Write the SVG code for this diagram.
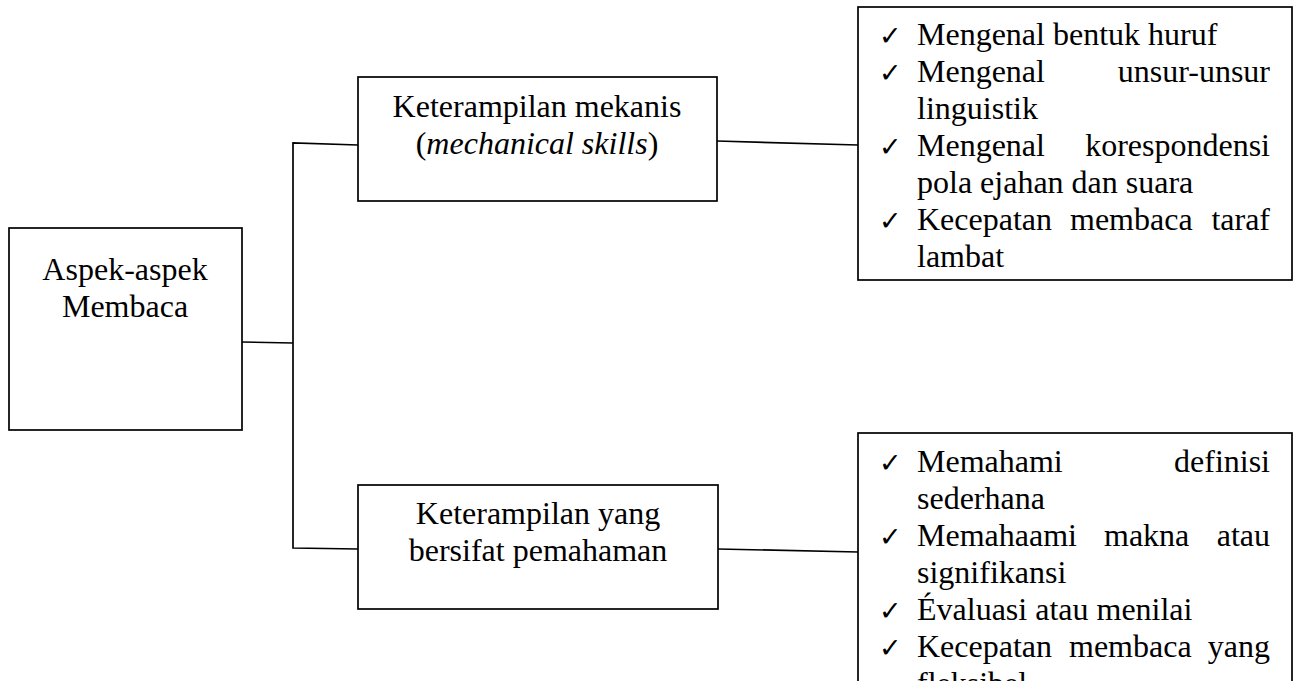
<svg xmlns="http://www.w3.org/2000/svg" width="1294" height="681" viewBox="0 0 1294 681">
<style>
.box{fill:#fff;stroke:#000;stroke-width:1.7}
.ln{fill:none;stroke:#000;stroke-width:1.7}
.t{font-family:"Liberation Serif","Times New Roman",serif;font-size:32px;fill:#000}
.c{text-anchor:middle}
.e{text-anchor:end}
.ck{font-family:"DejaVu Sans",sans-serif;font-size:27px;fill:#000}
</style>
<rect width="1294" height="681" fill="#fff"/>
<g id="connectors">
<path class="ln" d="M242 342 L293 343"/>
<path class="ln" d="M358 145 L293 143 L293 548 L358 549"/>
<path class="ln" d="M717 141 L858 145"/>
<path class="ln" d="M718 549 L858 552"/>
</g>
<g id="aspek">
<rect class="box" x="9" y="228" width="233" height="202"/>
<text class="t c" x="125" y="280">Aspek-aspek</text>
<text class="t c" x="125" y="317">Membaca</text>
</g>
<g id="mekanis">
<rect class="box" x="358" y="77" width="359" height="124"/>
<text class="t c" x="537" y="117">Keterampilan mekanis</text>
<text class="t c" x="537" y="154">(<tspan font-style="italic">mechanical skills</tspan>)</text>
</g>
<g id="pemahaman">
<rect class="box" x="358" y="485" width="360" height="124"/>
<text class="t c" x="538" y="524">Keterampilan yang</text>
<text class="t c" x="538" y="561">bersifat pemahaman</text>
</g>
<g id="list-mekanis">
<rect class="box" x="858" y="7" width="434" height="273"/>
<text class="ck" x="879" y="45">✓</text>
<text class="t" x="917" y="45">Mengenal bentuk huruf</text>
<text class="ck" x="879" y="82">✓</text>
<text class="t" x="917" y="82">Mengenal</text>
<text class="t e" x="1270" y="82">unsur-unsur</text>
<text class="t" x="917" y="119">linguistik</text>
<text class="ck" x="879" y="156">✓</text>
<text class="t" x="917" y="156">Mengenal</text>
<text class="t e" x="1270" y="156">korespondensi</text>
<text class="t" x="917" y="193">pola ejahan dan suara</text>
<text class="ck" x="879" y="230">✓</text>
<text class="t" x="917" y="230">Kecepatan</text>
<text class="t" x="1070" y="230">membaca</text>
<text class="t e" x="1270" y="230">taraf</text>
<text class="t" x="917" y="267">lambat</text>
</g>
<g id="list-pemahaman">
<rect class="box" x="858" y="433" width="434" height="270"/>
<text class="ck" x="879" y="472">✓</text>
<text class="t" x="917" y="472">Memahami</text>
<text class="t e" x="1270" y="472">definisi</text>
<text class="t" x="917" y="509">sederhana</text>
<text class="ck" x="879" y="546">✓</text>
<text class="t" x="917" y="546">Memahaami</text>
<text class="t" x="1104" y="546">makna</text>
<text class="t e" x="1270" y="546">atau</text>
<text class="t" x="917" y="583">signifikansi</text>
<text class="ck" x="879" y="620">✓</text>
<text class="t" x="917" y="620">Évaluasi atau menilai</text>
<text class="ck" x="879" y="657">✓</text>
<text class="t" x="917" y="657">Kecepatan</text>
<text class="t" x="1069" y="657">membaca</text>
<text class="t e" x="1270" y="657">yang</text>
<text class="t" x="917" y="694">fleksibel</text>
</g>
</svg>
